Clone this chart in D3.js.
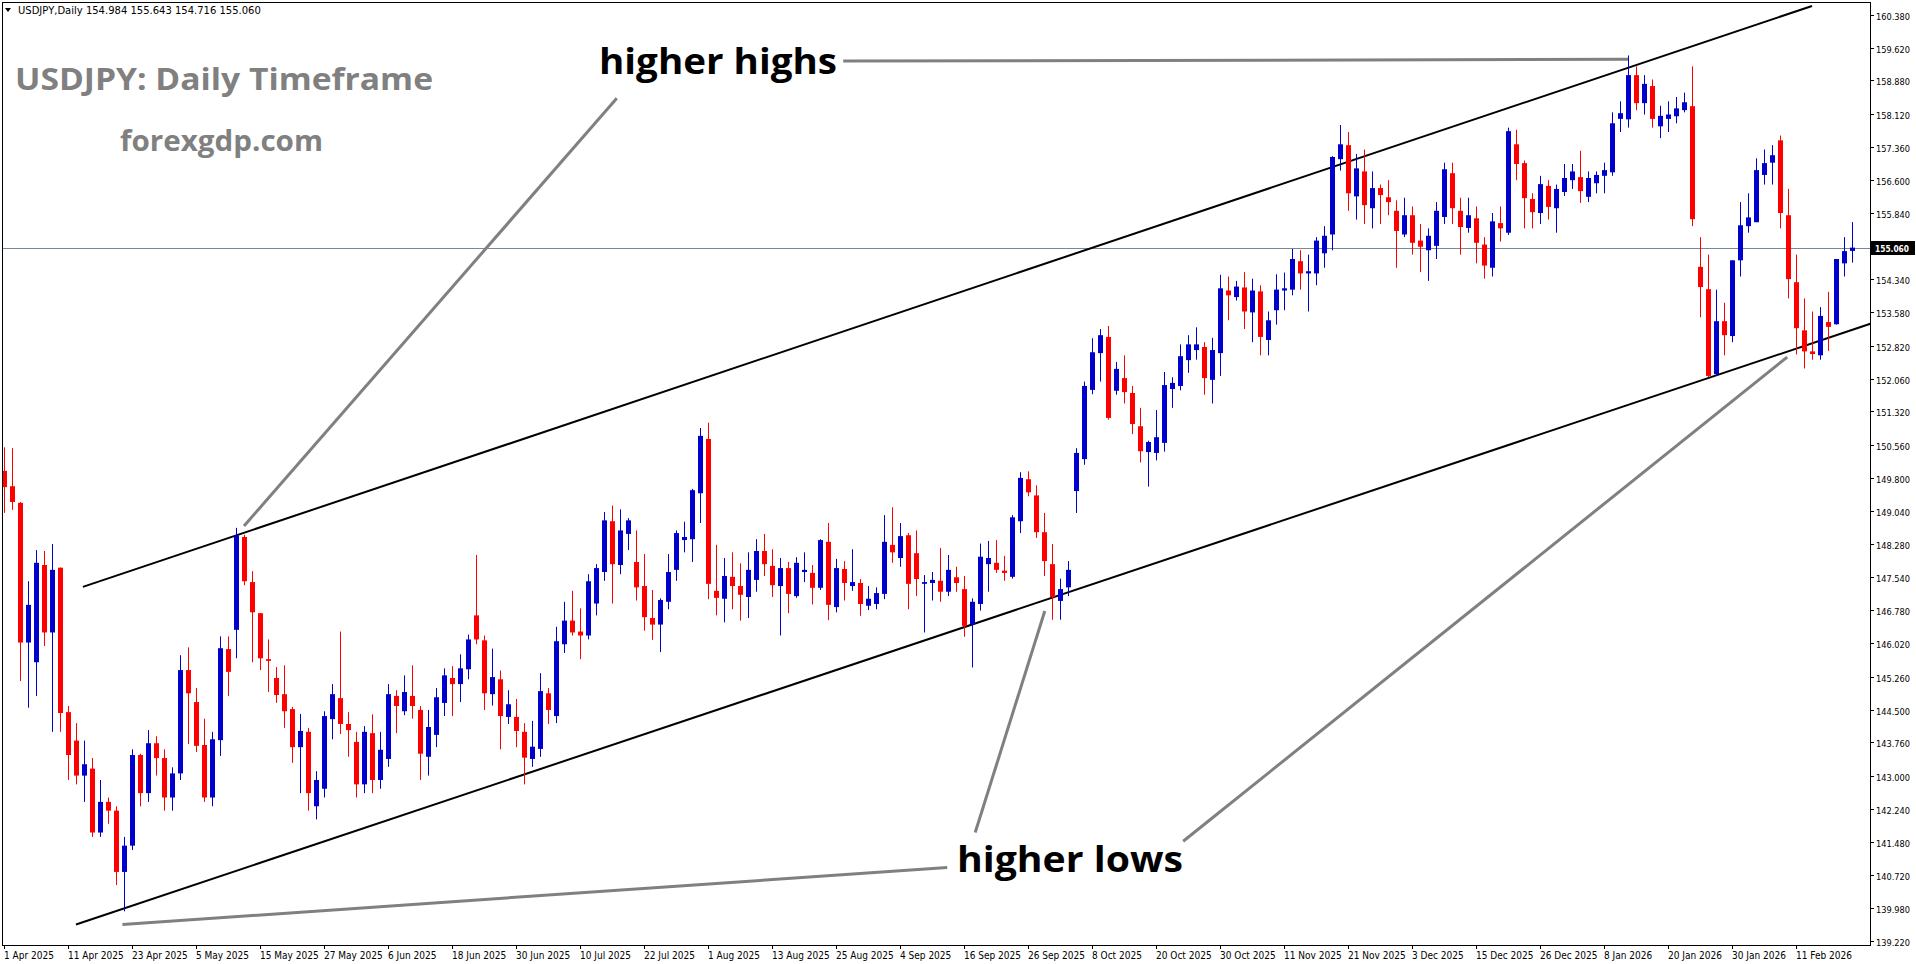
<!DOCTYPE html>
<html><head><meta charset="utf-8">
<script src="https://cdn.jsdelivr.net/npm/d3@7/dist/d3.min.js"></script>
<style>html,body{margin:0;padding:0;background:#fff;overflow:hidden}svg{display:block}</style>
</head><body><svg id="c" width="1916" height="964"></svg>
<script>
// OHLC per trading day, 1 Apr 2025 .. 20 Feb 2026
const ohlc = [
[149.96,150.5,149.0,149.59],[149.61,150.48,149.07,149.25],[149.23,149.25,145.16,146.04],[146.04,147.44,144.55,146.90],
[145.59,148.15,144.82,147.86],[147.81,148.13,145.96,146.27],[146.27,148.29,144.0,147.70],[147.75,147.75,144.0,144.43],
[144.45,144.59,142.9,143.47],[143.8,144.2,142.8,143.0],[143.0,143.8,142.4,143.26],[143.16,143.4,141.6,141.7],
[141.7,142.9,141.6,142.4],[142.4,142.5,141.9,142.2],[142.2,142.3,140.5,140.8],[140.8,141.6,139.9,141.4],
[141.4,143.6,141.3,143.47],[143.47,143.5,142.3,142.6],[142.6,144.04,142.4,143.74],[143.74,143.9,143.0,143.4],
[143.4,143.6,142.2,142.5],[142.5,143.19,142.2,143.05],[143.05,145.75,142.9,145.41],[145.41,145.93,143.72,144.88],
[144.68,145.0,143.54,143.68],[143.70,144.3,142.4,142.5],[142.5,144.0,142.3,143.83],[143.81,146.18,143.45,145.91],
[145.89,146.18,144.82,145.37],[146.33,148.66,145.68,148.49],[148.45,148.5,147.35,147.44],[147.42,147.67,145.59,146.73],
[146.71,146.71,145.41,145.68],[145.66,146.11,144.91,145.62],[145.23,145.48,144.66,144.84],[144.86,145.52,144.09,144.47],
[144.52,144.57,143.29,143.65],[143.65,144.41,142.6,144.02],[144.0,144.09,142.2,142.6],[142.3,143.1,142.0,142.9],
[142.7,144.47,142.5,144.36],[144.29,145.09,143.83,144.86],[144.77,146.29,143.95,144.18],[144.18,144.45,143.43,144.04],
[143.77,144.0,142.5,142.8],[142.8,144.13,142.6,144.0],[143.97,144.4,142.6,142.9],[142.9,144.0,142.7,143.59],
[143.38,145.09,143.2,144.86],[144.82,144.95,143.97,144.59],[144.47,145.29,144.38,144.91],[144.82,145.52,144.3,144.59],
[144.5,144.59,142.9,143.5],[143.43,144.5,143.0,144.11],[143.93,145.0,143.65,144.79],[144.66,145.45,144.36,145.29],
[145.23,145.5,144.36,145.09],[145.09,145.77,144.68,145.45],[145.43,146.22,145.2,146.11],[146.66,148.04,146.0,146.11],
[146.09,146.2,144.5,144.88],[144.86,145.9,144.6,145.25],[145.2,145.4,143.6,144.36],[144.34,144.95,144.18,144.63],
[144.34,144.75,143.65,144.02],[144.0,144.2,142.8,143.41],[143.38,144.25,143.2,143.66],[143.61,145.34,143.43,144.93],
[144.88,145.0,144.18,144.5],[144.36,146.4,144.2,146.07],[146.0,146.97,145.8,146.54],[146.54,147.22,146.2,146.27],
[146.29,146.82,145.66,146.2],[146.2,147.6,146.11,147.44],[146.93,147.83,146.66,147.74],[147.65,149.02,147.45,148.83],
[148.81,149.17,146.93,147.83],[147.81,149.08,147.6,148.6],[148.52,148.88,148.15,148.83],[147.88,148.6,147.0,147.3],
[147.33,148.06,146.31,146.62],[146.6,147.24,146.1,146.45],[146.45,147.05,145.82,147.01],[146.97,148.06,146.8,147.65],
[147.7,148.6,147.45,148.54],[148.38,148.8,148.1,148.45],[148.4,149.55,147.88,149.52],[149.45,150.94,148.77,150.76],
[150.69,151.06,147.03,147.38],[147.22,148.27,146.66,147.06],[147.04,147.97,146.5,147.56],[147.54,148.1,146.8,147.33],
[147.33,147.85,146.54,147.13],[147.08,148.1,146.6,147.7],[147.47,148.4,147.2,148.13],[148.13,148.52,147.56,147.83],
[147.79,148.17,147.08,147.35],[147.33,147.97,146.2,147.74],[147.74,147.88,146.71,147.15],[147.1,147.99,147.06,147.86],
[147.65,148.1,147.42,147.7],[147.63,147.81,146.91,147.29],[147.29,148.4,147.24,148.38],[148.34,148.77,146.55,146.9],
[146.85,147.95,146.73,147.74],[147.72,147.9,147.0,147.4],[147.33,148.17,147.22,147.42],[147.4,147.49,146.65,146.92],
[146.88,147.33,146.78,147.04],[146.92,147.3,146.8,147.17],[147.15,148.95,147.03,148.34],[148.27,149.13,147.86,148.1],
[147.97,148.77,147.77,148.47],[148.49,148.54,146.8,147.38],[148.08,148.6,147.1,147.49],[147.38,147.58,146.27,147.42],
[147.4,147.65,147.0,147.47],[147.45,148.2,146.97,147.2],[147.2,148.04,147.1,147.7],[147.53,147.77,147.2,147.4],
[147.26,147.56,146.17,146.42],[146.45,147.05,145.47,146.97],[146.92,148.3,146.77,148.0],[147.83,148.36,147.2,147.97],
[147.86,148.38,147.63,147.7],[147.68,148.02,147.45,147.63],[147.54,148.95,147.5,148.9],[148.81,149.93,148.54,149.8],
[149.77,149.95,149.38,149.47],[149.4,149.63,148.43,148.56],[148.56,149.0,147.56,147.9],[147.83,148.29,146.56,147.08],
[146.99,147.5,146.56,147.26],[147.3,147.9,147.1,147.7],[149.5,150.48,149.0,150.37],[150.23,152.0,150.1,151.9],
[151.81,152.99,151.71,152.67],[152.65,153.2,152.0,153.06],[153.02,153.27,151.13,151.17],[151.79,152.45,151.7,152.29],
[152.08,152.6,151.5,151.76],[151.74,151.9,150.8,151.03],[150.98,151.4,150.15,150.41],[150.39,150.65,149.6,150.62],
[150.37,151.35,150.2,150.73],[150.6,152.22,150.4,151.92],[151.83,152.1,151.4,151.97],[151.9,152.85,151.8,152.58],
[152.49,153.06,152.2,152.85],[152.72,153.24,152.5,152.85],[152.79,152.9,151.7,152.08],[152.04,153.0,151.5,152.72],
[152.65,154.44,152.13,154.13],[154.08,154.4,153.4,153.97],[153.93,154.3,153.85,154.17],[154.15,154.5,153.2,153.6],
[153.58,154.35,152.9,154.08],[154.06,154.2,152.6,153.02],[152.95,153.6,152.6,153.4],[153.63,154.45,153.3,154.1],
[154.08,154.49,153.63,154.13],[154.1,155.03,153.97,154.8],[154.75,155.0,154.1,154.47],[154.47,154.9,153.6,154.52],
[154.47,155.3,154.2,155.22],[154.93,155.55,154.6,155.33],[155.36,157.15,155.0,157.13],[157.08,157.86,156.82,157.42],
[157.4,157.7,155.9,156.3],[156.23,157.2,155.7,156.87],[156.8,157.3,155.6,156.03],[155.96,156.8,155.5,156.42],
[156.42,156.5,155.6,156.26],[156.21,156.6,155.8,156.1],[155.9,156.14,154.6,155.44],[155.36,156.2,155.3,155.8],
[155.8,156.0,154.9,155.17],[155.22,155.6,154.5,155.08],[155.0,155.5,154.3,155.33],[155.1,156.1,154.8,155.9],
[155.76,157.0,155.6,156.85],[156.76,157.0,155.6,155.96],[155.9,156.2,154.9,155.53],[155.51,156.2,155.4,155.8],
[155.73,156.0,154.7,155.17],[155.13,155.3,154.35,154.65],[154.6,155.85,154.4,155.66],[155.62,156.0,155.2,155.5],
[155.4,157.8,155.35,157.72],[157.42,157.75,156.6,156.97],[156.99,157.05,155.5,156.19],[156.17,156.3,155.5,155.87],
[155.85,156.7,155.6,156.51],[156.47,156.6,155.7,155.99],[155.96,156.5,155.4,156.4],[156.33,156.97,156.24,156.65],
[156.6,156.97,156.4,156.8],[156.67,157.27,156.08,156.35],[156.22,156.8,156.1,156.65],[156.53,156.8,156.3,156.72],
[156.7,157.0,156.3,156.83],[156.78,158.15,156.7,157.9],[158.0,158.4,157.7,158.13],[157.99,159.45,157.8,159.0],
[159.0,159.2,158.2,158.36],[158.36,159.0,158.1,158.8],[158.75,158.9,157.8,158.0],[157.83,158.3,157.56,158.07],
[158.0,158.4,157.7,158.1],[158.06,158.5,157.9,158.24],[158.2,158.6,158.15,158.38],[158.29,159.2,155.55,155.71],
[154.62,155.3,153.47,154.16],[154.11,154.9,152.1,152.13],[152.17,154.1,152.13,153.38],[153.38,153.8,152.6,153.06],
[153.04,154.77,152.9,154.77],[154.77,156.1,154.4,155.57],[155.55,156.3,155.4,155.75],[155.64,157.1,155.64,156.83],
[156.72,157.3,156.5,156.99],[157.0,157.4,156.5,157.17],[157.51,157.62,155.5,155.85],[155.8,156.4,153.9,154.34],
[154.27,154.9,152.62,153.22],[153.17,153.9,152.3,152.69],[152.69,153.6,152.5,152.63],[152.6,153.7,152.5,153.5],
[153.36,154.05,152.7,153.25],[153.31,154.8,153.3,154.8],[154.7,155.3,154.4,154.98],[154.984,155.643,154.716,155.060]
];
const dateLabels = ["1 Apr 2025","11 Apr 2025","23 Apr 2025","5 May 2025","15 May 2025","27 May 2025","6 Jun 2025","18 Jun 2025","30 Jun 2025","10 Jul 2025","22 Jul 2025","1 Aug 2025","13 Aug 2025","25 Aug 2025","4 Sep 2025","16 Sep 2025","26 Sep 2025","8 Oct 2025","20 Oct 2025","30 Oct 2025","11 Nov 2025","21 Nov 2025","3 Dec 2025","15 Dec 2025","26 Dec 2025","8 Jan 2026","20 Jan 2026","30 Jan 2026","11 Feb 2026"];
const labelStep = 8;
const priceTicks = [160.380,159.620,158.880,158.120,157.360,156.600,155.840,155.080,154.340,153.580,152.820,152.060,151.320,150.560,149.800,149.040,148.280,147.540,146.780,146.020,145.260,144.500,143.760,143.000,142.240,141.480,140.720,139.980,139.220];
const lastPrice = 155.060;
const upperChannel = [[9.86,147.31],[226,160.58]];
const lowerChannel = [[9,139.60],[233.3,153.32]];
const highsPointers = [[[104.9,159.32],[203,159.36]],[[76.6,158.47],[30,148.7]]];
const lowsPointers = [[[117.9,140.9],[14.8,139.6]],[[121.4,141.7],[130.1,146.76]],[[147.4,141.5],[222.9,152.56]]];

const svg = d3.select("#c");
const L=2, R=1870, T=2, B=945;
const x = d3.scaleLinear().domain([0,231]).range([4,1852]);
const y = d3.scaleLinear().domain([139.22,160.38]).range([941.1,14.7]);

svg.append("defs").append("clipPath").attr("id","pc").append("rect").attr("x",L).attr("y",T).attr("width",R-L).attr("height",B-T);
const g = svg.append("g").attr("clip-path","url(#pc)");

g.append("line").attr("x1",L).attr("x2",R).attr("y1",Math.round(y(lastPrice))+0.5).attr("y2",Math.round(y(lastPrice))+0.5).attr("stroke","#778899").attr("stroke-width",1);

const ln = d3.line().x(d=>x(d[0])).y(d=>y(d[1]));
[upperChannel,lowerChannel].forEach(c=>g.append("path").attr("d",ln(c)).attr("stroke","#000").attr("stroke-width",2).attr("fill","none"));

const cg = g.append("g");
ohlc.forEach((d,i)=>{
  const [o,h,l,c]=d; const up=c>=o; const col=up?"#0000cd":"#ff0000";
  const cx=Math.round(x(i))+0.5;
  cg.append("line").attr("x1",cx).attr("x2",cx).attr("y1",y(h)).attr("y2",y(l)).attr("stroke",col).attr("stroke-width",1);
  const yt=y(Math.max(o,c)), yb=y(Math.min(o,c));
  cg.append("rect").attr("x",cx-2.5).attr("y",yt).attr("width",5).attr("height",Math.max(1.5,yb-yt)).attr("fill",col);
});

highsPointers.concat(lowsPointers).forEach(p=>g.append("path").attr("d",ln(p)).attr("stroke","#808080").attr("stroke-width",3).attr("fill","none"));

const F="'Open Sans', 'DejaVu Sans', sans-serif";
svg.append("text").attr("x",599).attr("y",74).attr("font-family",F).attr("font-weight",700).attr("font-size",36).attr("textLength",238).attr("lengthAdjust","spacingAndGlyphs").attr("fill","#000").text("higher highs");
svg.append("text").attr("x",957).attr("y",872).attr("font-family",F).attr("font-weight",700).attr("font-size",36).attr("textLength",226).attr("lengthAdjust","spacingAndGlyphs").attr("fill","#000").text("higher lows");
svg.append("text").attr("x",15).attr("y",90).attr("font-family",F).attr("font-weight",700).attr("font-size",31).attr("textLength",418).attr("lengthAdjust","spacingAndGlyphs").attr("fill","#808080").text("USDJPY: Daily Timeframe");
svg.append("text").attr("x",120).attr("y",151).attr("font-family",F).attr("font-weight",700).attr("font-size",28).attr("textLength",203).attr("lengthAdjust","spacingAndGlyphs").attr("fill","#808080").text("forexgdp.com");
svg.append("path").attr("d","M5,8 L11,8 L8,12 Z").attr("fill","#000");
svg.append("text").attr("x",18).attr("y",14).attr("font-family","'DejaVu Sans', sans-serif").attr("font-size",10).attr("fill","#000").text("USDJPY,Daily  154.984 155.643 154.716 155.060");

svg.append("rect").attr("x",L+0.5).attr("y",T+0.5).attr("width",R-L).attr("height",B-T).attr("fill","none").attr("stroke","#000");

const ya = svg.append("g");
priceTicks.forEach(p=>{
  const yy=Math.round(y(p))+0.5;
  ya.append("line").attr("x1",R).attr("x2",R+4).attr("y1",yy).attr("y2",yy).attr("stroke","#000");
  ya.append("text").attr("x",R+6).attr("y",yy+4).attr("font-family","'DejaVu Sans Condensed','DejaVu Sans', sans-serif").attr("font-size",9).attr("textLength",34).attr("lengthAdjust","spacingAndGlyphs").attr("fill","#000").text(p.toFixed(3));
});
const ly=Math.round(y(lastPrice));
ya.append("rect").attr("x",R+1).attr("y",ly-7).attr("width",44).attr("height",14).attr("fill","#000");
ya.append("text").attr("x",R+5).attr("y",ly+4).attr("font-family","'DejaVu Sans Condensed','DejaVu Sans', sans-serif").attr("font-size",9).attr("font-weight",700).attr("textLength",34).attr("lengthAdjust","spacingAndGlyphs").attr("fill","#fff").text(lastPrice.toFixed(3));

const xa = svg.append("g");
dateLabels.forEach((t,k)=>{
  const xx=Math.round(x(k*labelStep));
  xa.append("line").attr("x1",xx+0.5).attr("x2",xx+0.5).attr("y1",B).attr("y2",B+4).attr("stroke","#000");
  xa.append("text").attr("x",xx).attr("y",B+14).attr("font-family","'DejaVu Sans Condensed','DejaVu Sans', sans-serif").attr("font-size",10).attr("fill","#000").text(t);
});
</script></body></html>
